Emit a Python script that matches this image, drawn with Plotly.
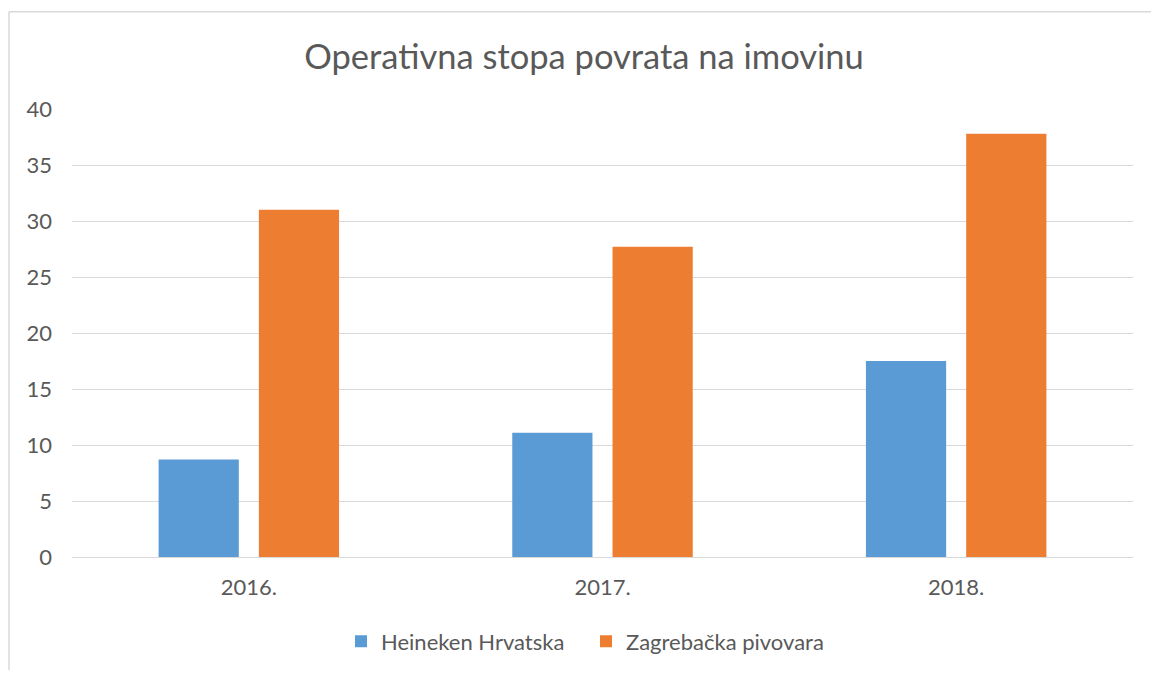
import plotly.graph_objects as go

categories = ["2016.", "2017.", "2018."]
heineken = [8.7, 11.1, 17.5]
zagrebacka = [31.0, 27.7, 37.8]
series_names = ["Heineken Hrvatska", "Zagrebačka pivovara"]
title_text = "Operativna stopa povrata na imovinu"

FONT = "Lato"
TXT = "#595959"
BORDER = "#d9d9d9"

fig = go.Figure()
fig.add_trace(go.Bar(x=categories, y=heineken, name=series_names[0],
                     marker=dict(color="#5B9BD5", line=dict(width=0))))
fig.add_trace(go.Bar(x=categories, y=zagrebacka, name=series_names[1],
                     marker=dict(color="#ED7D31", line=dict(width=0))))

W, H = 1151, 674
# plot area in page pixels: x 72..1133, y 109..560
PX0, PX1, PY0, PY1 = 72, 1133, 109, 560
L, T = PX0, PY0
pw = PX1 - PX0
ph = PY1 - PY0
R = W - L - pw
B = H - T - ph

def px2paperx(px):
    return (px - PX0) / pw

def py2papery(py):
    return (PY1 - py) / ph

fig.update_layout(
    width=W, height=H,
    margin=dict(l=L, r=R, t=T, b=B),
    paper_bgcolor="white", plot_bgcolor="white",
    font=dict(family=FONT, color=TXT, size=22),
    title=dict(text=title_text, x=584 / W, xanchor="center",
               y=1 - 57 / H, yanchor="middle",
               font=dict(family=FONT, size=34.5, color=TXT)),
    barmode="group", bargap=0.433, bargroupgap=0.2,
    showlegend=True,
    legend=dict(orientation="h", x=px2paperx(586), xanchor="center",
                y=py2papery(645), yanchor="middle",
                font=dict(family=FONT, size=22, color=TXT),
                itemwidth=30, entrywidth=200, entrywidthmode="pixels"),
    xaxis=dict(showgrid=False, showline=False, ticks="", ticklabelstandoff=15,
               tickfont=dict(family=FONT, size=22, color=TXT)),
    yaxis=dict(range=[0, 40], dtick=5, showgrid=True, gridcolor="#d9d9d9",
               gridwidth=1, zeroline=True, zerolinecolor="#d9d9d9", zerolinewidth=1,
               showline=False, ticks="", ticklabelstandoff=19,
               tickfont=dict(family=FONT, size=22, color=TXT)),
    shapes=[
        dict(type="line", xref="paper", yref="paper",
             x0=px2paperx(9), x1=px2paperx(1151), y0=py2papery(11), y1=py2papery(11),
             line=dict(color=BORDER, width=1.5), layer="below"),
        dict(type="line", xref="paper", yref="paper",
             x0=px2paperx(9), x1=px2paperx(9), y0=py2papery(11), y1=py2papery(674),
             line=dict(color=BORDER, width=1.5), layer="below"),
    ],
)

fig.write_html(
    "out.html",
    config={"displayModeBar": False},
    post_script="document.body.style.margin='0';document.body.style.overflow='hidden';",
)
